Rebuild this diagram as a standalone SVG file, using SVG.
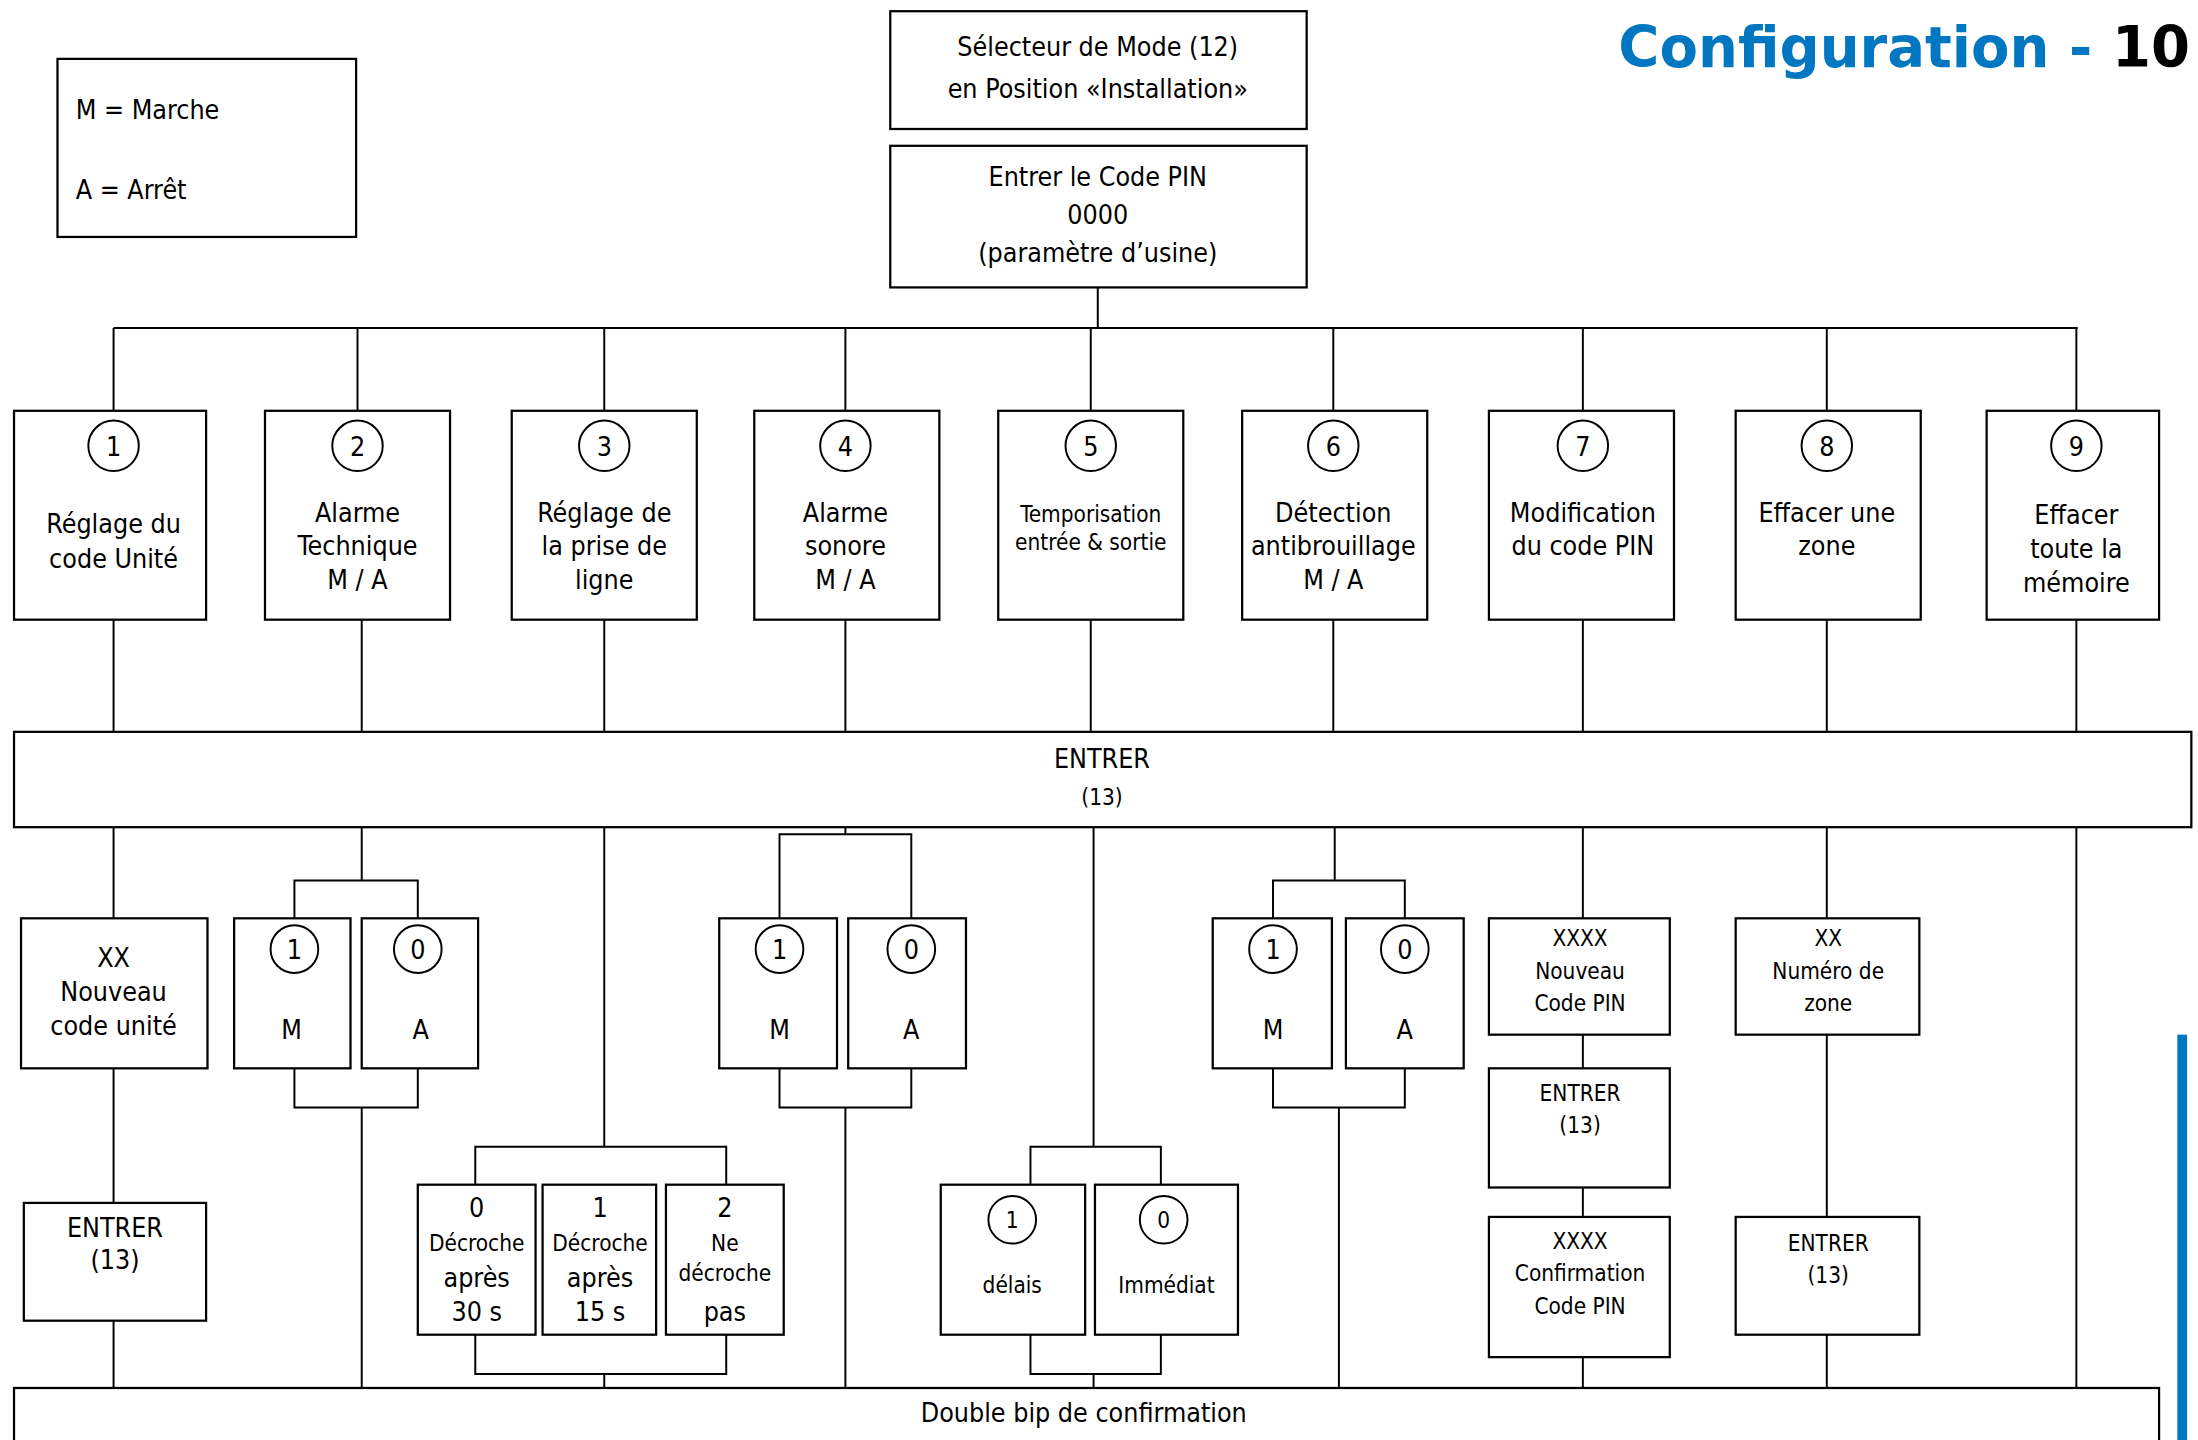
<svg xmlns="http://www.w3.org/2000/svg" width="2198" height="1440" viewBox="0 0 2198 1440">
<style>
rect.b{fill:#fff;stroke:#000;stroke-width:1.6}
circle{fill:#fff;stroke:#000;stroke-width:1.4}
.c path,.c line{fill:none;stroke:#000;stroke-width:1.4}
text{font-family:"DejaVu Sans Condensed","DejaVu Sans",sans-serif;font-size:19px;text-anchor:middle;fill:#000}
text.s{font-size:16px}
</style>
<rect width="2198" height="1440" fill="#fff"/>
<g transform="scale(1.402)">
<g class="c" id="connectors">
<path d="M783 205V234M81 234H1482M81 234V293M255 234V293M431 234V293M603 234V293M778 234V293M951 234V293M1129 234V293M1303 234V293M1481 234V293"/>
<path d="M81 442V522M258 442V522M431 442V522M603 442V522M778 442V522M951 442V522M1129 442V522M1303 442V522M1481 442V522"/>
<path d="M81 590V655M81 762V858M81 942V990"/>
<path d="M258 590V628M210 655V628H298V655M210 762V790H298V762M258 790V990"/>
<path d="M431 590V818M339 845V818H518V845M339 952V980H518V952M431 980V990"/>
<path d="M603 590V595M556 655V595H650V655M556 762V790H650V762M603 790V990"/>
<path d="M780 590V818M735 845V818H828V845M735 952V980H828V952M780 980V990"/>
<path d="M952 590V628M908 655V628H1002V655M908 762V790H1002V762M955 790V990"/>
<path d="M1129 590V655M1129 738V762M1129 847V868M1129 968V990"/>
<path d="M1303 590V655M1303 738V868M1303 952V990"/>
<path d="M1481 590V990"/>
</g>
<g id="legend"><rect class="b" x="41" y="42" width="213" height="127"/>
<text x="54" y="85" style="text-anchor:start">M  =  Marche</text>
<text x="54" y="142" style="text-anchor:start">A  =  Arrêt</text></g>
<g id="title"><text x="1562" y="48" style="text-anchor:end;font-family:'DejaVu Sans',sans-serif;font-weight:bold;font-size:40px;fill:#0077c0">Configuration - <tspan fill="#000">10</tspan></text></g>
<rect x="1553" y="738" width="7" height="300" fill="#0077c0"/>
<g id="selecteur"><rect class="b" x="635" y="8" width="297" height="84"/>
<text x="783" y="40">Sélecteur de Mode (12)</text><text x="783" y="70">en Position «Installation»</text></g>
<g id="pin"><rect class="b" x="635" y="104" width="297" height="101"/>
<text x="783" y="133">Entrer le Code PIN</text><text x="783" y="160">0000</text><text x="783" y="187">(paramètre d’usine)</text></g>
<g id="n1"><rect class="b" x="10" y="293" width="137" height="149"/><circle cx="81" cy="318" r="18"/><text x="81" y="325">1</text><text x="81" y="380">Réglage du</text><text x="81" y="405">code Unité</text></g>
<g id="n2"><rect class="b" x="189" y="293" width="132" height="149"/><circle cx="255" cy="318" r="18"/><text x="255" y="325">2</text><text x="255" y="372">Alarme</text><text x="255" y="396">Technique</text><text x="255" y="420">M / A</text></g>
<g id="n3"><rect class="b" x="365" y="293" width="132" height="149"/><circle cx="431" cy="318" r="18"/><text x="431" y="325">3</text><text x="431" y="372">Réglage de</text><text x="431" y="396">la prise de</text><text x="431" y="420">ligne</text></g>
<g id="n4"><rect class="b" x="538" y="293" width="132" height="149"/><circle cx="603" cy="318" r="18"/><text x="603" y="325">4</text><text x="603" y="372">Alarme</text><text x="603" y="396">sonore</text><text x="603" y="420">M / A</text></g>
<g id="n5"><rect class="b" x="712" y="293" width="132" height="149"/><circle cx="778" cy="318" r="18"/><text x="778" y="325">5</text><text class="s" x="778" y="372">Temporisation</text><text class="s" x="778" y="392">entrée &amp; sortie</text></g>
<g id="n6"><rect class="b" x="886" y="293" width="132" height="149"/><circle cx="951" cy="318" r="18"/><text x="951" y="325">6</text><text x="951" y="372">Détection</text><text x="951" y="396">antibrouillage</text><text x="951" y="420">M / A</text></g>
<g id="n7"><rect class="b" x="1062" y="293" width="132" height="149"/><circle cx="1129" cy="318" r="18"/><text x="1129" y="325">7</text><text x="1129" y="372">Modification</text><text x="1129" y="396">du code PIN</text></g>
<g id="n8"><rect class="b" x="1238" y="293" width="132" height="149"/><circle cx="1303" cy="318" r="18"/><text x="1303" y="325">8</text><text x="1303" y="372">Effacer une</text><text x="1303" y="396">zone</text></g>
<g id="n9"><rect class="b" x="1417" y="293" width="123" height="149"/><circle cx="1481" cy="318" r="18"/><text x="1481" y="325">9</text><text x="1481" y="374">Effacer</text><text x="1481" y="398">toute  la</text><text x="1481" y="422">mémoire</text></g>
<g id="entrer"><rect class="b" x="10" y="522" width="1553" height="68"/><text x="786" y="548">ENTRER</text><text class="s" x="786" y="574">(13)</text></g>
<g id="xx1"><rect class="b" x="15" y="655" width="133" height="107"/><text x="81" y="690">XX</text><text x="81" y="714">Nouveau</text><text x="81" y="738">code unité</text></g>
<g id="e1"><rect class="b" x="17" y="858" width="130" height="84"/><text x="82" y="882">ENTRER</text><text x="82" y="905">(13)</text></g>
<g id="m2"><rect class="b" x="167" y="655" width="83" height="107"/><circle cx="210" cy="677" r="17"/><text x="210" y="684">1</text><text x="208" y="741">M</text></g>
<g id="a2"><rect class="b" x="258" y="655" width="83" height="107"/><circle cx="298" cy="677" r="17"/><text x="298" y="684">0</text><text x="300" y="741">A</text></g>
<g id="p0"><rect class="b" x="298" y="845" width="84" height="107"/><text x="340" y="868">0</text><text class="s" x="340" y="892">Décroche</text><text x="340" y="918">après</text><text x="340" y="942">30 s</text></g>
<g id="p1"><rect class="b" x="387" y="845" width="81" height="107"/><text x="428" y="868">1</text><text class="s" x="428" y="892">Décroche</text><text x="428" y="918">après</text><text x="428" y="942">15 s</text></g>
<g id="p2"><rect class="b" x="475" y="845" width="84" height="107"/><text x="517" y="868">2</text><text class="s" x="517" y="892">Ne</text><text class="s" x="517" y="914">décroche</text><text x="517" y="942">pas</text></g>
<g id="m4"><rect class="b" x="513" y="655" width="84" height="107"/><circle cx="556" cy="677" r="17"/><text x="556" y="684">1</text><text x="556" y="741">M</text></g>
<g id="a4"><rect class="b" x="605" y="655" width="84" height="107"/><circle cx="650" cy="677" r="17"/><text x="650" y="684">0</text><text x="650" y="741">A</text></g>
<g id="t1"><rect class="b" x="671" y="845" width="103" height="107"/><circle cx="722" cy="870" r="17"/><text class="s" x="722" y="876">1</text><text class="s" x="722" y="922">délais</text></g>
<g id="t0"><rect class="b" x="781" y="845" width="102" height="107"/><circle cx="830" cy="870" r="17"/><text class="s" x="830" y="876">0</text><text class="s" x="832" y="922">Immédiat</text></g>
<g id="m6"><rect class="b" x="865" y="655" width="85" height="107"/><circle cx="908" cy="677" r="17"/><text x="908" y="684">1</text><text x="908" y="741">M</text></g>
<g id="a6"><rect class="b" x="960" y="655" width="84" height="107"/><circle cx="1002" cy="677" r="17"/><text x="1002" y="684">0</text><text x="1002" y="741">A</text></g>
<g id="pin1"><rect class="b" x="1062" y="655" width="129" height="83"/><text class="s" x="1127" y="675">XXXX</text><text class="s" x="1127" y="698">Nouveau</text><text class="s" x="1127" y="721">Code PIN</text></g>
<g id="e7"><rect class="b" x="1062" y="762" width="129" height="85"/><text class="s" x="1127" y="785">ENTRER</text><text class="s" x="1127" y="808">(13)</text></g>
<g id="pin2"><rect class="b" x="1062" y="868" width="129" height="100"/><text class="s" x="1127" y="891">XXXX</text><text class="s" x="1127" y="914">Confirmation</text><text class="s" x="1127" y="937">Code PIN</text></g>
<g id="zone"><rect class="b" x="1238" y="655" width="131" height="83"/><text class="s" x="1304" y="675">XX</text><text class="s" x="1304" y="698">Numéro de</text><text class="s" x="1304" y="721">zone</text></g>
<g id="e8"><rect class="b" x="1238" y="868" width="131" height="84"/><text class="s" x="1304" y="892">ENTRER</text><text class="s" x="1304" y="915">(13)</text></g>
<g id="bip"><rect class="b" x="10" y="990" width="1530" height="60"/><text x="773" y="1014">Double bip de confirmation</text></g>
</g>
</svg>
